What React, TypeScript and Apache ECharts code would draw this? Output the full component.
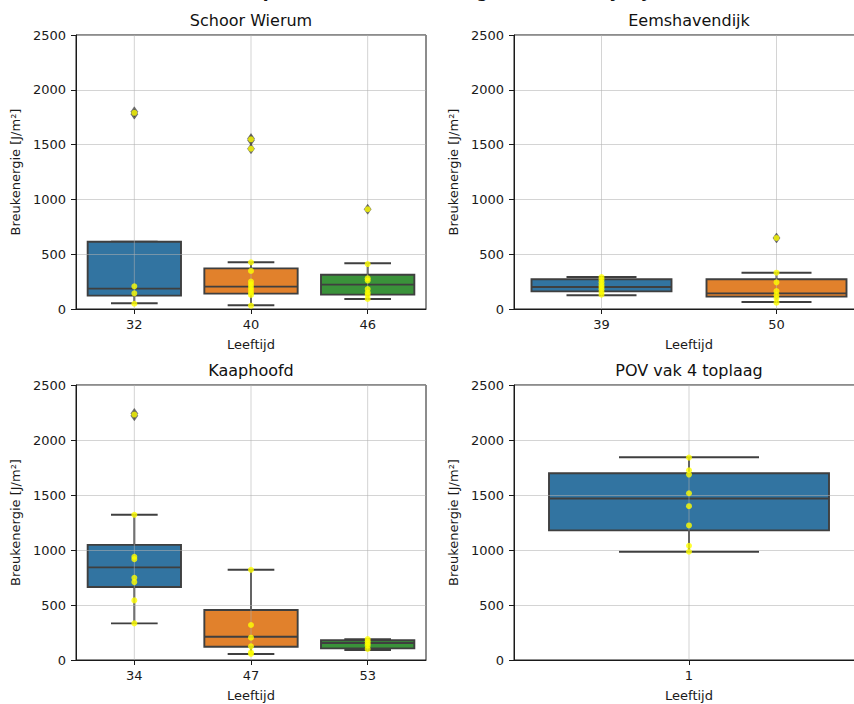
import React, { useEffect, useRef } from 'react';
import * as echarts from 'echarts';

const FONT = 'DejaVu Sans';
const boxColors = ['#3274a1', '#e1812c', '#3a923a'];
const suptitle = 'Overzicht per locatie: breukenergie naar leeftijd (J/m²)';
const yName = 'Breukenergie [J/m²]';
const xName = 'Leeftijd';

// Schoor Wierum
const schoorTitle = 'Schoor Wierum';
const schoorAges = ['32', '40', '46'];
// [lower whisker, Q1, median, Q3, upper whisker]
const schoorStats = [
  [52, 122, 186, 614, 614],
  [34, 140, 204, 371, 426],
  [91, 131, 222, 313, 417],
];
const schoorOutliers = [[1778, 1800], [1462, 1540, 1555], [910]];
const schoorPoints = [
  [1790, 207, 143, 48],
  [1548, 1462, 426, 347, 250, 225, 200, 175, 150, 128, 30],
  [910, 410, 280, 260, 182, 150, 128, 91],
];

// Eemshavendijk
const eemsTitle = 'Eemshavendijk';
const eemsAges = ['39', '50'];
const eemsStats = [
  [125, 161, 201, 271, 292],
  [64, 113, 143, 271, 331],
];
const eemsOutliers = [[], [648]];
const eemsPoints = [
  [292, 270, 245, 220, 200, 180, 155, 130],
  [648, 331, 243, 164, 128, 97, 58],
];

// Kaaphoofd
const kaapTitle = 'Kaaphoofd';
const kaapAges = ['34', '47', '53'];
const kaapStats = [
  [333, 663, 842, 1047, 1320],
  [54, 121, 212, 454, 820],
  [91, 106, 154, 179, 190],
];
const kaapOutliers = [[2220, 2242], [], []];
const kaapPoints = [
  [2231, 1320, 938, 917, 747, 708, 542, 333],
  [820, 318, 203, 124, 70, 55],
  [190, 170, 150, 130, 100],
];

// POV vak 4 toplaag
const povTitle = 'POV vak 4 toplaag';
const povAges = ['1'];
const povStats = [[984, 1178, 1468, 1698, 1843]];
const povOutliers = [[]];
const povPoints = [[1840, 1725, 1686, 1516, 1398, 1223, 1038, 984]];

type Panel = {
  title: string;
  ages: string[];
  stats: number[][];
  outliers: number[][];
  points: number[][];
  left: number;
  top: number;
  width: number;
  height: number;
};

const panels: Panel[] = [
  { title: schoorTitle, ages: schoorAges, stats: schoorStats, outliers: schoorOutliers, points: schoorPoints, left: 76, top: 35, width: 350, height: 274 },
  { title: eemsTitle, ages: eemsAges, stats: eemsStats, outliers: eemsOutliers, points: eemsPoints, left: 514, top: 35, width: 350, height: 274 },
  { title: kaapTitle, ages: kaapAges, stats: kaapStats, outliers: kaapOutliers, points: kaapPoints, left: 76, top: 385, width: 350, height: 275 },
  { title: povTitle, ages: povAges, stats: povStats, outliers: povOutliers, points: povPoints, left: 514, top: 385, width: 350, height: 275 },
];

const EDGE = '#3f3f3f';
const GRIDLINE = 'rgba(176,176,176,0.55)';

function renderBox(params: any, api: any) {
  const x = api.value(0);
  const lo = api.coord([x, api.value(1)]);
  const q1 = api.coord([x, api.value(2)]);
  const med = api.coord([x, api.value(3)]);
  const q3 = api.coord([x, api.value(4)]);
  const hi = api.coord([x, api.value(5)]);
  const top = api.coord([x, 2500]);
  const bottom = api.coord([x, 0]);
  const band = api.size([1, 0])[0];
  const w = band * 0.8;
  const cx = q1[0];
  const line = { stroke: EDGE, lineWidth: 1.9 };
  const color = boxColors[params.dataIndex % boxColors.length];
  return {
    type: 'group',
    children: [
      { type: 'line', shape: { x1: cx, y1: q3[1], x2: cx, y2: hi[1] }, style: line },
      { type: 'line', shape: { x1: cx, y1: q1[1], x2: cx, y2: lo[1] }, style: line },
      { type: 'line', shape: { x1: cx - w / 4, y1: hi[1], x2: cx + w / 4, y2: hi[1] }, style: line },
      { type: 'line', shape: { x1: cx - w / 4, y1: lo[1], x2: cx + w / 4, y2: lo[1] }, style: line },
      {
        type: 'rect',
        shape: { x: cx - w / 2, y: q3[1], width: w, height: q1[1] - q3[1] },
        style: { fill: color, stroke: EDGE, lineWidth: 1.9 },
      },
      { type: 'line', shape: { x1: cx - w / 2, y1: med[1], x2: cx + w / 2, y2: med[1] }, style: line },
      // vertical grid line at the category, drawn over the box
      { type: 'line', shape: { x1: cx, y1: top[1], x2: cx, y2: bottom[1] }, style: { stroke: GRIDLINE, lineWidth: 1 } },
    ],
  };
}

function buildOption() {
  const grid: any[] = [];
  const xAxis: any[] = [];
  const yAxis: any[] = [];
  const series: any[] = [];
  const graphic: any[] = [];

  panels.forEach((p, i) => {
    grid.push({
      left: p.left,
      top: p.top,
      width: p.width,
      height: p.height,
      show: true,
      borderColor: '#1a1a1a',
      borderWidth: 1,
      backgroundColor: 'transparent',
      containLabel: false,
      outerBoundsMode: 'none',
    });
    xAxis.push({
      type: 'category',
      gridIndex: i,
      data: p.ages,
      boundaryGap: true,
      name: xName,
      nameLocation: 'middle',
      nameGap: 29,
      nameTextStyle: { fontFamily: FONT, fontSize: 13, color: '#1a1a1a' },
      axisLine: { show: true, lineStyle: { color: '#1a1a1a', width: 1 } },
      axisTick: { show: true, alignWithLabel: true, length: 5, lineStyle: { color: '#1a1a1a' } },
      axisLabel: { fontFamily: FONT, fontSize: 13, color: '#1a1a1a', margin: 9 },
      splitLine: { show: false },
      z: 3,
    });
    yAxis.push({
      type: 'value',
      gridIndex: i,
      min: 0,
      max: 2500,
      interval: 500,
      name: yName,
      nameLocation: 'middle',
      nameGap: 54,
      nameTextStyle: { fontFamily: FONT, fontSize: 13, color: '#1a1a1a' },
      axisLine: { show: true, lineStyle: { color: '#1a1a1a', width: 1 } },
      axisTick: { show: true, length: 5, lineStyle: { color: '#1a1a1a' } },
      axisLabel: { fontFamily: FONT, fontSize: 13, color: '#1a1a1a', margin: 10, formatter: (v: number) => String(v) },
      splitLine: { show: true, lineStyle: { color: GRIDLINE, width: 1 } },
      z: 3,
    });

    series.push({
      type: 'custom',
      xAxisIndex: i,
      yAxisIndex: i,
      z: 2,
      renderItem: renderBox,
      encode: { x: 0, y: [1, 2, 3, 4, 5] },
      data: p.stats.map((s, k) => [k, ...s]),
    });

    const outlierData: number[][] = [];
    p.outliers.forEach((vals, k) => vals.forEach((v) => outlierData.push([k, v])));
    series.push({
      type: 'scatter',
      xAxisIndex: i,
      yAxisIndex: i,
      z: 4,
      symbol: 'diamond',
      symbolSize: [7, 10],
      itemStyle: { color: '#4a4a4a', borderColor: '#3f3f3f', borderWidth: 0.5 },
      data: outlierData,
    });

    const pointData: number[][] = [];
    p.points.forEach((vals, k) => vals.forEach((v) => pointData.push([k, v])));
    series.push({
      type: 'scatter',
      xAxisIndex: i,
      yAxisIndex: i,
      z: 5,
      symbol: 'circle',
      symbolSize: 6,
      itemStyle: { color: '#ffff00' },
      data: pointData,
    });

    graphic.push({
      type: 'text',
      x: p.left + p.width / 2,
      y: p.top - 15,
      style: {
        text: p.title,
        font: `16px "${FONT}"`,
        fill: '#111',
        textAlign: 'center',
        textVerticalAlign: 'middle',
      },
    });
  });

  graphic.push({
    type: 'text',
    x: 427,
    y: -1,
    style: {
      text: suptitle,
      font: `bold 17px "${FONT}"`,
      fill: '#111',
      textAlign: 'center',
      textVerticalAlign: 'bottom',
    },
  });

  return {
    animation: false,
    backgroundColor: '#ffffff',
    grid,
    xAxis,
    yAxis,
    series,
    graphic,
  };
}

export default function App() {
  const ref = useRef<HTMLDivElement>(null);
  useEffect(() => {
    if (!ref.current) return;
    const chart = echarts.init(ref.current, undefined, { renderer: 'svg' });
    chart.setOption(buildOption() as any);
    return () => chart.dispose();
  }, []);
  return (
    <div
      ref={ref}
      style={{ position: 'fixed', left: 0, top: 0, width: 854, height: 704, background: '#fff' }}
    />
  );
}
